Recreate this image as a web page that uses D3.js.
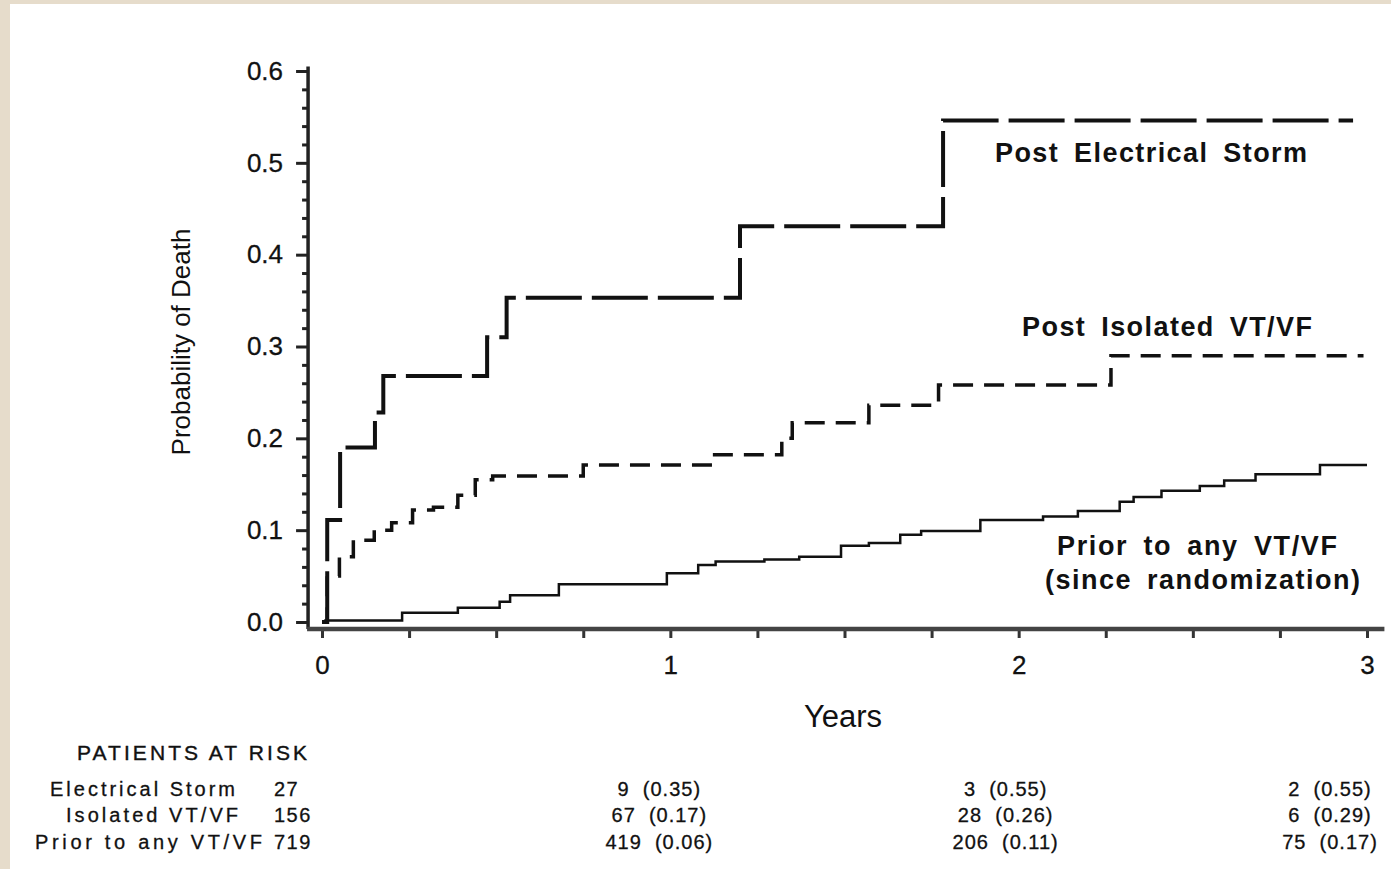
<!DOCTYPE html>
<html>
<head>
<meta charset="utf-8">
<script src="https://cdn.jsdelivr.net/npm/d3@7"></script>
<style>
  body { margin: 0; background: #e6dccb; }
  svg { display: block; }
  text { font-family: "Liberation Sans", Arial, sans-serif; fill: #111; }
</style>
</head>
<body>
<svg id="chart"></svg>
<script>
// Kaplan-Meier style step data, [years, probability]
const stormSteps = [[0, 0], [0.015, 0.111], [0.052, 0.19], [0.152, 0.228], [0.176, 0.268],
	[0.474, 0.31], [0.53, 0.353], [1.2, 0.431], [1.783, 0.546], [2.96, 0.546]];
const isolatedSteps = [[0, 0], [0.015, 0.05], [0.05, 0.071], [0.09, 0.089], [0.15, 0.10],
	[0.2, 0.108], [0.26, 0.122], [0.32, 0.125], [0.39, 0.138], [0.44, 0.155], [0.49, 0.159],
	[0.75, 0.171], [1.12, 0.182], [1.32, 0.2], [1.35, 0.217], [1.57, 0.236], [1.77, 0.258],
	[2.265, 0.29], [2.99, 0.29]];
const priorSteps = [[0, 0], [0.01, 0.0015], [0.23, 0.010], [0.39, 0.0156], [0.51, 0.022],
	[0.54, 0.029], [0.68, 0.041], [0.99, 0.053], [1.08, 0.062], [1.13, 0.066], [1.27, 0.068],
	[1.37, 0.071], [1.49, 0.083], [1.57, 0.086], [1.66, 0.095], [1.72, 0.099], [1.89, 0.111],
	[2.07, 0.115], [2.17, 0.121], [2.29, 0.131], [2.33, 0.136], [2.41, 0.143], [2.52, 0.148],
	[2.59, 0.154], [2.68, 0.161], [2.865, 0.171], [3.0, 0.171]];

const yTicks = [0, 0.1, 0.2, 0.3, 0.4, 0.5, 0.6];
const xTicks = [0, 1, 2, 3];

const riskLabels = ["Electrical Storm", "Isolated VT/VF", "Prior to any VT/VF"];
const riskAtZero = [27, 156, 719];
const riskYears = [1, 2, 3];
const riskCounts = [[9, 3, 2], [67, 28, 6], [419, 206, 75]];
const riskProbs = [["0.35", "0.55", "0.55"], ["0.17", "0.26", "0.29"], ["0.06", "0.11", "0.17"]];

const svgWidth = 1391, svgHeight = 869;
const svg = d3.select("#chart").attr("width", svgWidth).attr("height", svgHeight);

// white panel on the beige page
svg.append("rect").attr("x", 10).attr("y", 4)
	.attr("width", svgWidth - 10).attr("height", svgHeight - 4).attr("fill", "#fff");

const xScale = d3.scaleLinear().domain([0, 3]).range([322, 1367]);
const yScale = d3.scaleLinear().domain([0, 0.6]).range([622, 71]);
const yAxisX = xScale(-0.04);
const xAxisY = 629;

// y axis
const yMinor = d3.range(0, 0.601, 0.02).filter(v => Math.abs(v * 10 - Math.round(v * 10)) > 1e-6);
svg.append("g")
	.attr("transform", `translate(${yAxisX},0)`)
	.call(d3.axisLeft(yScale).tickValues(yMinor).tickSize(6).tickFormat(""))
	.call(g => g.select(".domain").remove())
	.call(g => g.selectAll("line").attr("stroke", "#222").attr("stroke-width", 3));
svg.append("g")
	.attr("transform", `translate(${yAxisX},0)`)
	.call(d3.axisLeft(yScale).tickValues(yTicks).tickSize(12).tickPadding(13).tickFormat(d3.format(".1f")))
	.call(g => g.select(".domain").remove())
	.call(g => g.selectAll("line").attr("stroke", "#222").attr("stroke-width", 3))
	.call(g => g.selectAll("text").attr("font-size", 26).attr("font-family", "Liberation Sans, Arial")
		.attr("fill", "#111").attr("stroke", "#111").attr("stroke-width", 0.3));
svg.append("line")
	.attr("x1", yAxisX).attr("x2", yAxisX)
	.attr("y1", yScale(0.605)).attr("y2", xAxisY)
	.attr("stroke", "#222").attr("stroke-width", 3.5);

// x axis
svg.append("g")
	.attr("transform", `translate(0,${xAxisY})`)
	.call(d3.axisBottom(xScale).tickValues(d3.range(0, 3.01, 0.25)).tickSize(9).tickPadding(18)
		.tickFormat(d => xTicks.includes(d) ? d : ""))
	.call(g => g.select(".domain").remove())
	.call(g => g.selectAll("line").attr("stroke", "#333").attr("stroke-width", 3))
	.call(g => g.selectAll("text").attr("font-size", 26).attr("font-family", "Liberation Sans, Arial")
		.attr("fill", "#111").attr("stroke", "#111").attr("stroke-width", 0.3));
svg.append("line")
	.attr("x1", yAxisX - 1).attr("x2", xScale(3.05))
	.attr("y1", xAxisY).attr("y2", xAxisY)
	.attr("stroke", "#444").attr("stroke-width", 4.5);

// axis titles
svg.append("text").text("Years")
	.attr("x", 843).attr("y", 727)
	.attr("text-anchor", "middle").attr("font-size", 31);
svg.append("text").text("Probability of Death")
	.attr("transform", "translate(190,342) rotate(-90)")
	.attr("text-anchor", "middle").attr("font-size", 26);

// curves
const line = d3.line()
	.x(d => xScale(d[0]))
	.y(d => yScale(d[1]))
	.curve(d3.curveStepAfter);

svg.append("path").datum(priorSteps)
	.attr("d", line).attr("fill", "none")
	.attr("stroke", "#111").attr("stroke-width", 2.5);
svg.append("path").datum(isolatedSteps)
	.attr("d", line).attr("fill", "none")
	.attr("stroke", "#111").attr("stroke-width", 3.5)
	.attr("stroke-dasharray", "20,11");
svg.append("path").datum(stormSteps)
	.attr("d", line).attr("fill", "none")
	.attr("stroke", "#111").attr("stroke-width", 4)
	.attr("stroke-dasharray", "56,10");

// curve labels
const curveLabels = [
	{text: "Post Electrical Storm", x: 995, y: 162, len: 312},
	{text: "Post Isolated VT/VF", x: 1022, y: 336, len: 290},
	{text: "Prior to any VT/VF", x: 1057, y: 555, len: 280},
	{text: "(since randomization)", x: 1045, y: 589, len: 315}
];
svg.selectAll(".curveLabel")
	.data(curveLabels)
	.enter()
	.append("text")
	.attr("class", "curveLabel")
	.text(d => d.text)
	.attr("x", d => d.x).attr("y", d => d.y)
	.attr("textLength", d => d.len).attr("lengthAdjust", "spacing")
	.attr("word-spacing", 6)
	.attr("font-size", 27).attr("font-weight", "bold");

// patients at risk table
svg.append("text").text("PATIENTS AT RISK")
	.attr("x", 77).attr("y", 760)
	.attr("textLength", 230).attr("lengthAdjust", "spacing")
	.attr("font-size", 21).attr("stroke", "#111").attr("stroke-width", 0.4);

const rowY = [796, 822, 849];
const labelX = [50, 66, 35];
const labelLen = [185, 172, 227];
const colOffset = [-11, -13, -37];

riskLabels.forEach((label, i) => {
	svg.append("text").text(label)
		.attr("x", labelX[i]).attr("y", rowY[i])
		.attr("textLength", labelLen[i]).attr("lengthAdjust", "spacing")
		.attr("font-size", 20).attr("stroke", "#111").attr("stroke-width", 0.3);
	svg.append("text").text(riskAtZero[i])
		.attr("x", 274).attr("y", rowY[i])
		.attr("letter-spacing", 1.5)
		.attr("font-size", 20).attr("stroke", "#111").attr("stroke-width", 0.3);
	riskYears.forEach((yr, j) => {
		svg.append("text")
			.attr("xml:space", "preserve")
			.style("white-space", "pre")
			.text(`${riskCounts[i][j]}  (${riskProbs[i][j]})`)
			.attr("x", xScale(yr) + colOffset[j]).attr("y", rowY[i])
			.attr("text-anchor", "middle")
			.attr("letter-spacing", 1)
			.attr("font-size", 20).attr("stroke", "#111").attr("stroke-width", 0.3);
	});
});
</script>
</body>
</html>
